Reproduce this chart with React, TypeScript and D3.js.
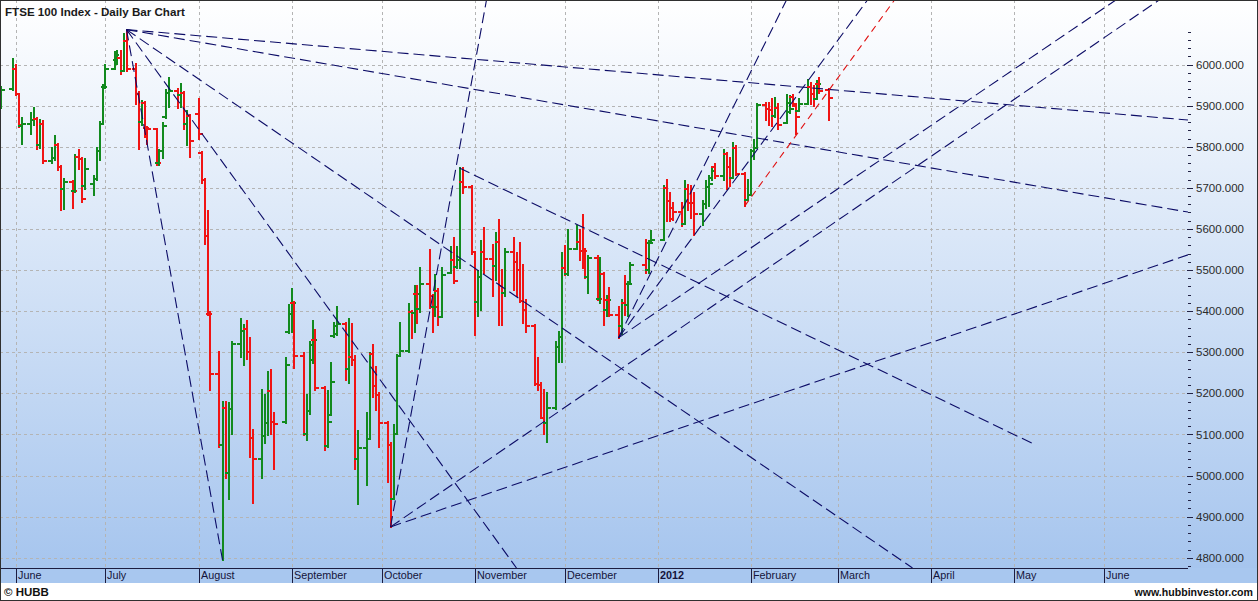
import React, { useEffect, useRef } from 'react';
import * as d3 from 'd3';

// date, open, high, low, close
type Bar = [string, number, number, number, number];
type Line = [string, number, string, number];

const WIDTH = 1258;
const HEIGHT = 601;
const PLOT_RIGHT = 1188;
const PLOT_BOTTOM = 568;
const BAND_BOTTOM = 583;

const barsMayJun2011: Bar[] = [
  ['2011-05-27', 5900, 5945, 5895, 5938],
  ['2011-05-31', 5940, 6013, 5938, 5990],
  ['2011-06-01', 5990, 5999, 5925, 5928],
  ['2011-06-02', 5928, 5929, 5849, 5853],
  ['2011-06-03', 5850, 5870, 5806, 5856],
  ['2011-06-06', 5856, 5883, 5832, 5864],
  ['2011-06-07', 5864, 5895, 5853, 5868],
  ['2011-06-08', 5868, 5870, 5795, 5804],
  ['2011-06-09', 5804, 5865, 5797, 5855],
  ['2011-06-10', 5855, 5862, 5761, 5766],
  ['2011-06-13', 5766, 5797, 5760, 5773],
  ['2011-06-14', 5773, 5827, 5768, 5804],
  ['2011-06-15', 5804, 5806, 5744, 5750],
  ['2011-06-16', 5750, 5752, 5646, 5698],
  ['2011-06-17', 5698, 5721, 5649, 5714],
  ['2011-06-20', 5714, 5717, 5650, 5692],
  ['2011-06-21', 5692, 5780, 5690, 5775],
  ['2011-06-22', 5775, 5792, 5746, 5770],
  ['2011-06-23', 5770, 5772, 5666, 5674],
  ['2011-06-24', 5705, 5770, 5698, 5745],
  ['2011-06-27', 5710, 5729, 5682, 5722],
  ['2011-06-28', 5722, 5797, 5718, 5790],
  ['2011-06-29', 5790, 5861, 5768, 5855],
  ['2011-06-30', 5855, 5951, 5855, 5945],
];

const barsJul2011: Bar[] = [
  ['2011-07-01', 5945, 6000, 5942, 5990],
  ['2011-07-04', 5990, 6031, 5989, 6024],
  ['2011-07-05', 6010, 6033, 6002, 6016],
  ['2011-07-06', 6016, 6033, 5976, 5985],
  ['2011-07-07', 5985, 6074, 5985, 6058],
  ['2011-07-08', 6058, 6085, 5985, 5990],
  ['2011-07-11', 5990, 6002, 5904, 5929],
  ['2011-07-12', 5929, 5934, 5795, 5860],
  ['2011-07-13', 5860, 5912, 5853, 5906],
  ['2011-07-14', 5906, 5908, 5823, 5846],
  ['2011-07-15', 5846, 5849, 5806, 5843],
  ['2011-07-18', 5843, 5844, 5755, 5760],
  ['2011-07-19', 5760, 5793, 5755, 5790],
  ['2011-07-20', 5790, 5857, 5772, 5850],
  ['2011-07-21', 5872, 5938, 5870, 5930],
  ['2011-07-22', 5930, 5968, 5897, 5935],
  ['2011-07-25', 5935, 5940, 5895, 5925],
  ['2011-07-26', 5925, 5953, 5897, 5930],
  ['2011-07-27', 5930, 5934, 5843, 5856],
  ['2011-07-28', 5856, 5887, 5803, 5874],
  ['2011-07-29', 5874, 5876, 5774, 5815],
];

const barsAug2011: Bar[] = [
  ['2011-08-01', 5880, 5917, 5819, 5830],
  ['2011-08-02', 5785, 5787, 5712, 5718],
  ['2011-08-03', 5718, 5721, 5563, 5584],
  ['2011-08-04', 5584, 5644, 5390, 5393],
  ['2011-08-05', 5393, 5397, 5208, 5247],
  ['2011-08-08', 5247, 5300, 5070, 5075],
  ['2011-08-09', 5075, 5180, 4795, 5164],
  ['2011-08-10', 5164, 5180, 4993, 5007],
  ['2011-08-11', 5007, 5176, 4944, 5162],
  ['2011-08-12', 5162, 5324, 5102, 5320],
  ['2011-08-15', 5320, 5380, 5289, 5351],
  ['2011-08-16', 5351, 5367, 5269, 5357],
  ['2011-08-17', 5357, 5375, 5283, 5300],
  ['2011-08-18', 5300, 5334, 5045, 5092],
  ['2011-08-19', 5092, 5110, 4932, 5040],
  ['2011-08-22', 5040, 5208, 4993, 5095],
  ['2011-08-23', 5095, 5196, 5078, 5129],
  ['2011-08-24', 5129, 5253, 5098, 5206],
  ['2011-08-25', 5206, 5257, 5102, 5131],
  ['2011-08-26', 5131, 5151, 5017, 5125],
  ['2011-08-30', 5131, 5285, 5129, 5268],
  ['2011-08-31', 5350, 5415, 5346, 5394],
];

const barsSep2011: Bar[] = [
  ['2011-09-01', 5394, 5454, 5348, 5420],
  ['2011-09-02', 5420, 5423, 5261, 5292],
  ['2011-09-05', 5292, 5297, 5098, 5102],
  ['2011-09-06', 5102, 5196, 5086, 5156],
  ['2011-09-07', 5156, 5324, 5150, 5318],
  ['2011-09-08', 5280, 5375, 5273, 5330],
  ['2011-09-09', 5330, 5354, 5208, 5214],
  ['2011-09-12', 5214, 5216, 5062, 5072],
  ['2011-09-13', 5072, 5206, 5070, 5130],
  ['2011-09-14', 5147, 5273, 5147, 5227],
  ['2011-09-15', 5340, 5371, 5338, 5365],
  ['2011-09-16', 5345, 5411, 5342, 5368],
  ['2011-09-19', 5368, 5371, 5232, 5259],
  ['2011-09-20', 5259, 5380, 5224, 5288],
  ['2011-09-21', 5288, 5369, 5269, 5280],
  ['2011-09-22', 5280, 5291, 5015, 5041],
  ['2011-09-23', 5041, 5108, 4930, 5066],
  ['2011-09-26', 5066, 5151, 4976, 5089],
  ['2011-09-27', 5089, 5297, 5089, 5295],
  ['2011-09-28', 5295, 5318, 5192, 5217],
  ['2011-09-29', 5217, 5265, 5159, 5196],
  ['2011-09-30', 5196, 5202, 5070, 5128],
];

const barsOct2011: Bar[] = [
  ['2011-10-03', 5128, 5131, 4985, 5075],
  ['2011-10-04', 5075, 5078, 4875, 4944],
  ['2011-10-05', 4944, 5123, 4944, 5102],
  ['2011-10-06', 5102, 5293, 5102, 5291],
  ['2011-10-07', 5291, 5372, 5291, 5303],
  ['2011-10-10', 5303, 5417, 5301, 5399],
  ['2011-10-11', 5399, 5401, 5334, 5395],
  ['2011-10-12', 5395, 5460, 5350, 5441],
  ['2011-10-13', 5441, 5460, 5371, 5404],
  ['2011-10-14', 5404, 5505, 5399, 5467],
  ['2011-10-17', 5467, 5548, 5408, 5436],
  ['2011-10-18', 5436, 5440, 5350, 5411],
  ['2011-10-19', 5411, 5489, 5387, 5450],
  ['2011-10-20', 5450, 5454, 5367, 5385],
  ['2011-10-21', 5385, 5505, 5385, 5488],
  ['2011-10-24', 5493, 5556, 5493, 5525],
  ['2011-10-25', 5525, 5578, 5468, 5473],
  ['2011-10-26', 5508, 5556, 5505, 5525],
  ['2011-10-27', 5525, 5748, 5505, 5713],
  ['2011-10-28', 5713, 5749, 5688, 5702],
  ['2011-10-31', 5702, 5704, 5540, 5544],
];

const barsNov2011: Bar[] = [
  ['2011-11-01', 5544, 5545, 5342, 5421],
  ['2011-11-02', 5421, 5497, 5387, 5484],
  ['2011-11-03', 5484, 5570, 5403, 5545],
  ['2011-11-04', 5545, 5602, 5493, 5527],
  ['2011-11-07', 5527, 5562, 5436, 5511],
  ['2011-11-08', 5511, 5590, 5476, 5567],
  ['2011-11-09', 5567, 5621, 5367, 5460],
  ['2011-11-10', 5460, 5501, 5367, 5445],
  ['2011-11-11', 5445, 5550, 5436, 5545],
  ['2011-11-14', 5545, 5578, 5452, 5519],
  ['2011-11-15', 5519, 5541, 5436, 5500],
  ['2011-11-16', 5500, 5566, 5423, 5425],
  ['2011-11-17', 5425, 5513, 5371, 5402],
  ['2011-11-18', 5402, 5428, 5350, 5363],
  ['2011-11-21', 5363, 5367, 5220, 5222],
  ['2011-11-22', 5222, 5286, 5208, 5220],
  ['2011-11-23', 5220, 5224, 5139, 5140],
  ['2011-11-24', 5140, 5208, 5102, 5127],
  ['2011-11-25', 5127, 5202, 5082, 5164],
  ['2011-11-28', 5164, 5326, 5163, 5312],
  ['2011-11-29', 5312, 5348, 5277, 5337],
  ['2011-11-30', 5337, 5541, 5277, 5505],
];

const barsDec2011: Bar[] = [
  ['2011-12-01', 5505, 5558, 5489, 5490],
  ['2011-12-02', 5490, 5598, 5488, 5552],
  ['2011-12-05', 5552, 5606, 5550, 5568],
  ['2011-12-06', 5568, 5598, 5525, 5547],
  ['2011-12-07', 5547, 5635, 5505, 5546],
  ['2011-12-08', 5546, 5550, 5480, 5484],
  ['2011-12-09', 5484, 5533, 5444, 5529],
  ['2011-12-12', 5529, 5533, 5428, 5430],
  ['2011-12-13', 5430, 5529, 5419, 5490],
  ['2011-12-14', 5490, 5493, 5367, 5402],
  ['2011-12-15', 5402, 5436, 5387, 5426],
  ['2011-12-16', 5426, 5456, 5387, 5390],
  ['2011-12-19', 5390, 5411, 5335, 5364],
  ['2011-12-20', 5364, 5428, 5345, 5420],
  ['2011-12-21', 5420, 5485, 5391, 5415],
  ['2011-12-22', 5415, 5472, 5387, 5467],
  ['2011-12-23', 5467, 5517, 5465, 5512],
  ['2011-12-28', 5512, 5574, 5493, 5500],
  ['2011-12-29', 5500, 5570, 5493, 5566],
  ['2011-12-30', 5566, 5594, 5566, 5572],
];

const barsJan2012: Bar[] = [
  ['2012-01-03', 5572, 5704, 5572, 5700],
  ['2012-01-04', 5700, 5720, 5619, 5668],
  ['2012-01-05', 5668, 5688, 5619, 5625],
  ['2012-01-06', 5650, 5663, 5622, 5640],
  ['2012-01-09', 5640, 5663, 5606, 5613],
  ['2012-01-10', 5613, 5716, 5613, 5696],
  ['2012-01-11', 5696, 5708, 5647, 5663],
  ['2012-01-12', 5663, 5704, 5627, 5662],
  ['2012-01-13', 5662, 5688, 5586, 5636],
  ['2012-01-16', 5636, 5667, 5610, 5660],
  ['2012-01-17', 5660, 5716, 5651, 5702],
  ['2012-01-18', 5702, 5728, 5655, 5710],
  ['2012-01-19', 5725, 5748, 5720, 5740],
  ['2012-01-20', 5750, 5757, 5724, 5729],
  ['2012-01-23', 5729, 5793, 5720, 5782],
  ['2012-01-24', 5782, 5785, 5696, 5751],
  ['2012-01-25', 5751, 5773, 5704, 5723],
  ['2012-01-26', 5723, 5809, 5723, 5796],
  ['2012-01-27', 5796, 5801, 5732, 5733],
  ['2012-01-30', 5733, 5736, 5655, 5671],
  ['2012-01-31', 5671, 5720, 5671, 5682],
];

const barsFeb2012: Bar[] = [
  ['2012-02-01', 5682, 5793, 5682, 5790],
  ['2012-02-02', 5790, 5817, 5769, 5796],
  ['2012-02-03', 5796, 5903, 5796, 5901],
  ['2012-02-06', 5901, 5907, 5866, 5892],
  ['2012-02-07', 5892, 5907, 5854, 5890],
  ['2012-02-08', 5890, 5916, 5850, 5875],
  ['2012-02-09', 5875, 5919, 5872, 5895],
  ['2012-02-10', 5895, 5903, 5842, 5852],
  ['2012-02-13', 5858, 5927, 5858, 5906],
  ['2012-02-14', 5885, 5923, 5882, 5892],
  ['2012-02-15', 5920, 5925, 5899, 5905],
  ['2012-02-16', 5899, 5901, 5830, 5872],
  ['2012-02-17', 5886, 5915, 5886, 5905],
  ['2012-02-20', 5905, 5962, 5905, 5945],
  ['2012-02-21', 5945, 5955, 5903, 5928],
  ['2012-02-22', 5928, 5947, 5899, 5916],
  ['2012-02-23', 5916, 5959, 5915, 5952],
  ['2012-02-24', 5952, 5968, 5931, 5935],
  ['2012-02-27', 5938, 5941, 5866, 5918],
];

const monthStarts = [
  '2011-06-01', '2011-07-01', '2011-08-01', '2011-09-01', '2011-10-01', '2011-11-01',
  '2011-12-01', '2012-01-01', '2012-02-01', '2012-03-01', '2012-04-01', '2012-05-01', '2012-06-01',
];
const monthLabels = [
  'June', 'July', 'August', 'September', 'October', 'November',
  'December', '2012', 'February', 'March', 'April', 'May', 'June',
];

const priceLabels = [4800, 4900, 5000, 5100, 5200, 5300, 5400, 5500, 5600, 5700, 5800, 5900, 6000];

// trend lines: start date, start value, end date, end value
const blueLines: Line[] = [
  ['2011-07-08', 6085, '2011-08-09', 4795],
  ['2011-07-08', 6085, '2011-11-15', 4775],
  ['2011-07-08', 6085, '2012-03-26', 4775],
  ['2011-07-08', 6085, '2012-06-30', 5641],
  ['2011-07-08', 6085, '2012-06-30', 5865],
  ['2011-10-27', 5748, '2012-05-07', 5079],
  ['2011-10-04', 4875, '2011-11-05', 6157],
  ['2011-10-04', 4875, '2012-06-30', 5537],
  ['2011-10-04', 4875, '2012-06-20', 6157],
  ['2011-12-19', 5335, '2012-02-13', 6157],
  ['2011-12-19', 5335, '2012-03-11', 6157],
  ['2011-12-19', 5335, '2012-06-05', 6157],
];
const redLines: Line[] = [
  ['2012-01-30', 5655, '2012-03-20', 6157],
];

const FONT = "'Liberation Sans', Arial, sans-serif";

const App: React.FC = () => {
  const svgRef = useRef<SVGSVGElement>(null);

  useEffect(() => {
    document.body.style.margin = '0';
    if (!svgRef.current) return;
    const parse = d3.timeParse('%Y-%m-%d');
    const svg = d3.select(svgRef.current);
    svg.selectAll('*').remove();

    const bars = [
      ...barsMayJun2011, ...barsJul2011, ...barsAug2011, ...barsSep2011, ...barsOct2011,
      ...barsNov2011, ...barsDec2011, ...barsJan2012, ...barsFeb2012,
    ].map(([d, o, h, l, c]) => ({ date: parse(d) as Date, o, h: Math.max(h, o, c), l: Math.min(l, o, c), c }));

    // calendar spacing through March, the projected months are a bit tighter
    const x = d3.scaleTime()
      .domain(['2011-05-27', '2012-04-01', '2012-05-01', '2012-06-01', '2012-06-30'].map(s => parse(s) as Date))
      .range([0.5, 930.5, 1014.3, 1104.3, PLOT_RIGHT]);

    const y = d3.scaleLinear().domain([4775, 6157]).range([PLOT_BOTTOM, 0]);

    const defs = svg.append('defs');
    const grad = defs.append('linearGradient')
      .attr('id', 'bgGrad').attr('x1', 0).attr('y1', 0).attr('x2', 0).attr('y2', 1);
    grad.append('stop').attr('offset', '0%').attr('stop-color', '#ffffff');
    grad.append('stop').attr('offset', '100%').attr('stop-color', '#a6c5ee');
    defs.append('clipPath').attr('id', 'plotClip')
      .append('rect').attr('x', 0).attr('y', 0).attr('width', PLOT_RIGHT).attr('height', PLOT_BOTTOM);

    // backgrounds
    svg.append('rect').attr('width', WIDTH).attr('height', HEIGHT).attr('fill', '#ffffff');
    svg.append('rect').attr('width', WIDTH).attr('height', PLOT_BOTTOM).attr('fill', 'url(#bgGrad)');
    svg.append('rect').attr('y', PLOT_BOTTOM).attr('width', WIDTH).attr('height', BAND_BOTTOM - PLOT_BOTTOM)
      .attr('fill', '#a8c7ef');

    // grid
    const grid = svg.append('g').attr('stroke', '#b4b4b4').attr('stroke-dasharray', '3,3').attr('stroke-width', 1);
    priceLabels.forEach(v => {
      const yy = Math.round(y(v)) + 0.5;
      grid.append('line').attr('x1', 0).attr('x2', PLOT_RIGHT - 2).attr('y1', yy).attr('y2', yy);
    });
    monthStarts.forEach(s => {
      const xx = Math.round(x(parse(s) as Date)) + 0.5;
      grid.append('line').attr('x1', xx).attr('x2', xx).attr('y1', 0).attr('y2', PLOT_BOTTOM);
    });

    // price bars
    const barG = svg.append('g').attr('clip-path', 'url(#plotClip)').attr('stroke-width', 2)
      .attr('shape-rendering', 'crispEdges');
    bars.forEach(b => {
      const xx = Math.round(x(b.date));
      const col = b.c >= b.o ? '#128a1e' : '#f01414';
      const g = barG.append('g').attr('stroke', col);
      g.append('line').attr('x1', xx).attr('x2', xx).attr('y1', y(b.h) - 1).attr('y2', y(b.l) + 1);
      g.append('line').attr('x1', xx - 4).attr('x2', xx).attr('y1', Math.round(y(b.o))).attr('y2', Math.round(y(b.o)));
      g.append('line').attr('x1', xx).attr('x2', xx + 4).attr('y1', Math.round(y(b.c))).attr('y2', Math.round(y(b.c)));
    });

    // trend lines
    const lineG = svg.append('g').attr('clip-path', 'url(#plotClip)').attr('fill', 'none');
    const drawLines = (lines: Line[], color: string, dash: string) => {
      lines.forEach(([d1, v1, d2, v2]) => {
        lineG.append('line')
          .attr('x1', x(parse(d1) as Date)).attr('y1', y(v1))
          .attr('x2', x(parse(d2) as Date)).attr('y2', y(v2))
          .attr('stroke', color).attr('stroke-width', 1.1).attr('stroke-dasharray', dash);
      });
    };
    drawLines(blueLines, '#0c0c66', '11,5');
    drawLines(redLines, '#e01010', '7,5');

    // right price axis
    const axis = svg.append('g').attr('stroke', '#222244').attr('shape-rendering', 'crispEdges');
    d3.range(4780, 6081, 20).forEach(v => {
      const yy = Math.round(y(v)) + 0.5;
      const major = v % 100 === 0;
      axis.append('line').attr('x1', major ? PLOT_RIGHT - 1 : PLOT_RIGHT).attr('x2', major ? PLOT_RIGHT + 5 : PLOT_RIGHT + 3)
        .attr('y1', yy).attr('y2', yy);
    });
    svg.append('g').selectAll('text').data(priceLabels).join('text')
      .attr('x', PLOT_RIGHT + 8).attr('y', d => y(d)).attr('dy', '0.36em')
      .attr('font-family', FONT).attr('font-size', 11.5).attr('fill', '#2a2a2a')
      .text(d => d3.format('.3f')(d));

    // time axis band
    svg.append('line').attr('x1', 0).attr('x2', PLOT_RIGHT).attr('y1', PLOT_BOTTOM + 0.5).attr('y2', PLOT_BOTTOM + 0.5)
      .attr('stroke', '#1c1c40');
    monthStarts.forEach((s, i) => {
      const xx = Math.round(x(parse(s) as Date)) + 0.5;
      svg.append('line').attr('x1', xx).attr('x2', xx).attr('y1', PLOT_BOTTOM).attr('y2', BAND_BOTTOM)
        .attr('stroke', '#1c1c40');
      svg.append('text').attr('x', xx + 1.5).attr('y', PLOT_BOTTOM + 11)
        .attr('font-family', FONT).attr('font-size', 10.8)
        .attr('font-weight', monthLabels[i] === '2012' ? 'bold' : 'normal')
        .attr('fill', '#14143a').text(monthLabels[i]);
    });

    // titles
    svg.append('text').attr('x', 5).attr('y', 16).attr('font-family', FONT).attr('font-size', 11.6)
      .attr('font-weight', 'bold').attr('fill', '#1a1a1a').text('FTSE 100 Index - Daily Bar Chart');
    svg.append('text').attr('x', 4).attr('y', 596).attr('font-family', FONT).attr('font-size', 11.5)
      .attr('font-weight', 'bold').attr('fill', '#111').text('© HUBB');
    svg.append('text').attr('x', WIDTH - 5).attr('y', 596).attr('text-anchor', 'end').attr('font-family', FONT)
      .attr('font-size', 10.6).attr('font-weight', 'bold').attr('fill', '#111').text('www.hubbinvestor.com');

    // outer frame
    svg.append('rect').attr('x', 0.5).attr('y', 0.5).attr('width', WIDTH - 1).attr('height', HEIGHT - 1)
      .attr('fill', 'none').attr('stroke', '#303030');
  }, []);

  return (
    <div style={{ position: 'absolute', left: 0, top: 0 }}>
      <svg ref={svgRef} width={WIDTH} height={HEIGHT} style={{ display: 'block' }} />
    </div>
  );
};

export default App;
